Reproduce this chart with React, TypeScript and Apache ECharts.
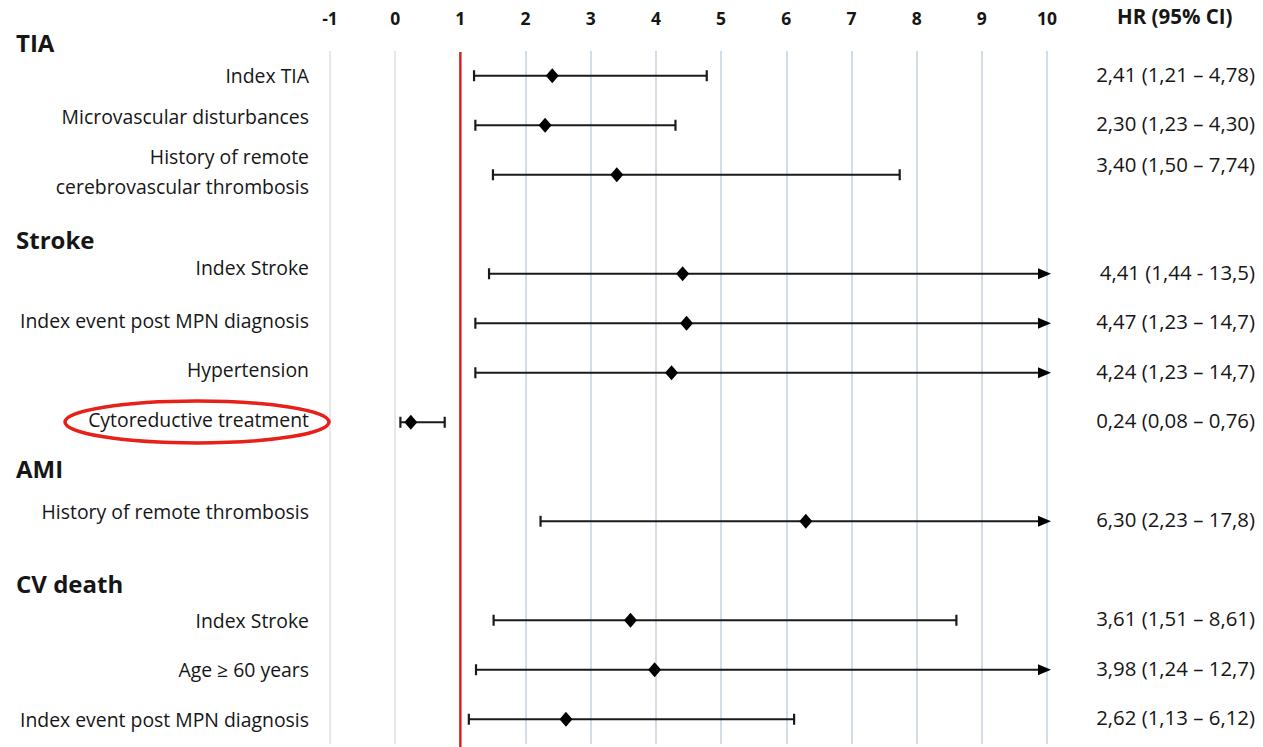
import React, { useEffect, useRef } from "react";
import * as echarts from "echarts";

// ---------- data ----------
const rowLabels: string[] = [
  "Index TIA",
  "Microvascular disturbances",
  "History of remote\ncerebrovascular thrombosis",
  "",
  "Index Stroke",
  "Index event post MPN diagnosis",
  "Hypertension",
  "Cytoreductive treatment",
  "",
  "History of remote thrombosis",
  "",
  "Index Stroke",
  "Age ≥ 60 years",
  "Index event post MPN diagnosis",
];

const groupHeaders: string[] = ["TIA", "Stroke", "AMI", "CV death"];

// slot (row index on the y axis) of each estimate
const rowSlot: number[] = [0, 1, 2, 4, 5, 6, 7, 9, 11, 12, 13];
const hrValue: number[] = [2.41, 2.3, 3.4, 4.41, 4.47, 4.24, 0.24, 6.3, 3.61, 3.98, 2.62];
const ciLow: number[] = [1.21, 1.23, 1.5, 1.44, 1.23, 1.23, 0.08, 2.23, 1.51, 1.24, 1.13];
const ciHigh: number[] = [4.78, 4.3, 7.74, 13.5, 14.7, 14.7, 0.76, 17.8, 8.61, 12.7, 6.12];
const ciText: string[] = [
  "2,41 (1,21 – 4,78)",
  "2,30 (1,23 – 4,30)",
  "3,40 (1,50 – 7,74)",
  "4,41 (1,44 - 13,5)",
  "4,47 (1,23 – 14,7)",
  "4,24 (1,23 – 14,7)",
  "0,24 (0,08 – 0,76)",
  "6,30 (2,23 – 17,8)",
  "3,61 (1,51 – 8,61)",
  "3,98 (1,24 – 12,7)",
  "2,62 (1,13 – 6,12)",
];
const xTickMin = -1;
const xTickMax = 10;
const refLine = 1;
const rightHeader = "HR (95% CI)";

// ---------- layout / style helpers (not data) ----------
const leftLift: Record<number, number> = { 1: 9, 2: 3, 4: 6, 5: 3, 6: 3, 7: 3, 9: 10 };
const rightLift: Record<number, number> = { 2: 9 };
const headerY: number[] = [46, 243, 472, 587];

const FONT = "'Open Sans', 'DejaVu Sans', sans-serif";
const TEXT = "#161616";

export default function App() {
  const ref = useRef<HTMLDivElement>(null);

  useEffect(() => {
    if (!ref.current) return;
    const chart = echarts.init(ref.current, undefined, { renderer: "svg" });

    const rightLabels = rowLabels.map(() => "");
    rowSlot.forEach((s, i) => (rightLabels[s] = ciText[i]));

    const richFor = (fontSize: number) => {
      const r: Record<string, any> = {};
      for (let n = 0; n <= 14; n++) {
        r["l" + n] = {
          fontFamily: FONT,
          fontSize,
          color: TEXT,
          padding: [0, 0, 2 * n, 0],
          lineHeight: 30,
        };
      }
      return r;
    };

    const liftFormat = (lift: Record<number, number>, base: number) =>
      (value: string, index: number) => {
        if (!value) return "";
        const n = (lift[index] ?? 0) + base;
        return value
          .split("\n")
          .map((line) => `{l${n}|${line}}`)
          .join("\n");
      };

    const splitColors: string[] = [];
    for (let v = xTickMin; v <= xTickMax; v++) {
      splitColors.push(v <= 0 ? "#e0e0e0" : v === refLine ? "rgba(0,0,0,0)" : "#c5d2df");
    }

    const data = rowSlot.map((s, i) => [ciLow[i], ciHigh[i], hrValue[i], s]);

    const option: any = {
      animation: false,
      backgroundColor: "#ffffff",
      grid: { left: 330, right: 216, top: 51, bottom: 3, containLabel: false },
      xAxis: {
        type: "value",
        position: "top",
        min: xTickMin,
        max: xTickMax,
        interval: 1,
        axisLine: { show: false },
        axisTick: { show: false },
        axisLabel: {
          margin: 24,
          fontFamily: FONT,
          fontWeight: "bold",
          fontSize: 17.5,
          color: TEXT,
        },
        splitLine: { show: true, lineStyle: { color: splitColors, width: 1.5 } },
      },
      yAxis: [
        {
          type: "category",
          inverse: true,
          data: rowLabels,
          position: "left",
          axisLine: { show: false },
          axisTick: { show: false },
          splitLine: { show: false },
          axisLabel: {
            margin: 21,
            interval: 0,
            fontFamily: FONT,
            fontSize: 19.4,
            color: TEXT,
            lineHeight: 30,
            formatter: liftFormat(leftLift, 0),
            rich: richFor(19.4),
          },
        },
        {
          type: "category",
          inverse: true,
          data: rightLabels,
          position: "right",
          axisLine: { show: false },
          axisTick: { show: false },
          splitLine: { show: false },
          axisLabel: {
            margin: 208,
            align: "right",
            interval: 0,
            fontFamily: FONT,
            fontSize: 20.4,
            color: TEXT,
            formatter: liftFormat(rightLift, 2),
            rich: richFor(20.4),
          },
        },
      ],
      graphic: [
        ...groupHeaders.map((h, i) => ({
          type: "text",
          left: 16,
          top: headerY[i] - 16,
          style: {
            text: h,
            fontFamily: FONT,
            fontWeight: "bold",
            fontSize: 24,
            fill: TEXT,
          },
        })),
        {
          type: "text",
          left: 1117,
          top: 5,
          style: {
            text: rightHeader,
            fontFamily: FONT,
            fontWeight: "bold",
            fontSize: 20.5,
            fill: TEXT,
          },
        },
        {
          type: "ellipse",
          shape: { cx: 197, cy: 422, rx: 132, ry: 21 },
          style: { fill: "none", stroke: "#e8201a", lineWidth: 3.5 },
          z: 10,
        },
      ],
      series: [
        {
          type: "custom",
          xAxisIndex: 0,
          yAxisIndex: 0,
          clip: false,
          data: [[refLine, 0]],
          encode: { x: 0, y: 1 },
          renderItem: (params: any, api: any) => {
            const x = api.coord([api.value(0), 0])[0];
            const cs = params.coordSys;
            return {
              type: "line",
              shape: { x1: x, y1: cs.y + 1, x2: x, y2: cs.y + cs.height + 3 },
              style: { stroke: "#d42626", lineWidth: 2.5 },
            };
          },
          z: 4,
        },
        {
          type: "custom",
          xAxisIndex: 0,
          yAxisIndex: 0,
          clip: false,
          data,
          encode: { x: [0, 1, 2], y: 3 },
          renderItem: (_params: any, api: any) => {
            const lo = api.value(0);
            const hi = api.value(1);
            const hr = api.value(2);
            const slot = api.value(3);
            const y = api.coord([0, slot])[1];
            const capped = hi > xTickMax;
            const xLo = api.coord([lo, slot])[0];
            const xHi = api.coord([Math.min(hi, xTickMax), slot])[0];
            const xHr = api.coord([hr, slot])[0];
            const stroke = "#1a1a1a";
            const children: any[] = [
              {
                type: "line",
                shape: { x1: xLo, y1: y, x2: capped ? xHi - 8 : xHi, y2: y },
                style: { stroke, lineWidth: 1.8 },
              },
              {
                type: "line",
                shape: { x1: xLo, y1: y - 5.5, x2: xLo, y2: y + 5.5 },
                style: { stroke, lineWidth: 2.2 },
              },
            ];
            if (capped) {
              children.push({
                type: "polygon",
                shape: { points: [[xHi - 9, y - 5.5], [xHi + 4, y], [xHi - 9, y + 5.5]] },
                style: { fill: "#000" },
              });
            } else {
              children.push({
                type: "line",
                shape: { x1: xHi, y1: y - 5.5, x2: xHi, y2: y + 5.5 },
                style: { stroke, lineWidth: 2.2 },
              });
            }
            children.push({
              type: "polygon",
              shape: { points: [[xHr - 6.5, y], [xHr, y - 7.5], [xHr + 6.5, y], [xHr, y + 7.5]] },
              style: { fill: "#000" },
            });
            return { type: "group", children };
          },
          z: 5,
        },
      ],
    };

    chart.setOption(option);
    return () => chart.dispose();
  }, []);

  return (
    <div
      ref={ref}
      style={{ position: "absolute", left: 0, top: 0, width: 1263, height: 747, background: "#fff" }}
    />
  );
}
